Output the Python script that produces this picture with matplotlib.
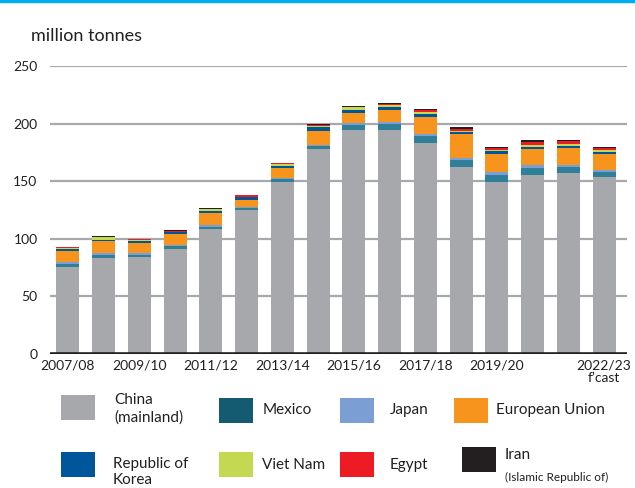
import matplotlib.pyplot as plt
from matplotlib.patches import Rectangle
from matplotlib.lines import Line2D

plt.rcParams['font.family'] = ['Lato', 'DejaVu Sans']

seasons = ['2007/08', '2008/09', '2009/10', '2010/11', '2011/12', '2012/13',
           '2013/14', '2014/15', '2015/16', '2016/17', '2017/18', '2018/19',
           '2019/20', '2020/21', '2021/22', '2022/23']
tick_text = ['2007/08', '', '2009/10', '', '2011/12', '', '2013/14', '',
             '2015/16', '', '2017/18', '', '2019/20', '', '', "2022/23\nf\u2019cast"]

# million tonnes, bottom to top of each stack
china = [75.5, 83.3, 84.5, 91.1, 108.5, 125.0, 149.3, 178.0,
         194.4, 194.4, 183.0, 162.3, 149.3, 155.4, 157.1, 153.6]
mexico = [2.5, 2.3, 1.7, 2.9, 1.7, 2.0, 2.6, 2.6,
          4.3, 5.2, 6.1, 6.1, 6.1, 6.1, 5.2, 4.3]
japan = [1.7, 1.7, 1.2, 0.6, 1.7, 0.5, 0.9, 0.9,
         1.7, 1.7, 1.7, 1.7, 2.6, 2.6, 1.7, 1.7]
eu = [9.5, 10.7, 8.7, 9.5, 10.4, 6.4, 8.7, 12.2,
      8.7, 10.4, 14.8, 20.8, 15.6, 13.9, 14.8, 13.9]
korea = [1.8, 1.1, 2.0, 1.7, 1.7, 2.6, 1.7, 3.5,
         2.6, 2.6, 2.6, 1.7, 2.6, 1.7, 1.7, 1.7]
viet_nam = [1.2, 2.3, 0.5, 0.5, 1.7, 0.0, 1.7, 0.9,
            2.6, 1.7, 1.7, 0.9, 0.9, 1.7, 1.7, 1.7]
egypt = [0.3, 0.0, 1.0, 0.9, 0.0, 1.7, 0.9, 0.9,
         0.0, 0.9, 1.7, 1.7, 1.7, 2.6, 2.6, 1.7]
iran = [0.8, 0.8, 0.0, 0.3, 0.9, 0.0, 0.0, 0.9,
        0.9, 0.9, 0.9, 2.0, 0.9, 1.7, 0.9, 0.9]

series = [china, mexico, japan, eu, korea, viet_nam, egypt, iran]
bar_colors = ['#a7a8ab', '#2f7f99', '#7b9fd4', '#f7941d',
              '#00569a', '#c5d852', '#ed1c24', '#231f20']
key_colors = ['#a7a8ab', '#145b72', '#7b9fd4', '#f7941d',
              '#00569a', '#c5d852', '#ed1c24', '#231f20']

fig = plt.figure(figsize=(6.35, 4.88), dpi=100)
ax = fig.add_axes([50 / 635, 1 - 354 / 488, 577 / 635, 288 / 488])

x = list(range(len(seasons)))
bottom = [0.0] * len(seasons)
for vals, col in zip(series, bar_colors):
    ax.bar(x, vals, width=0.64, bottom=bottom, color=col, linewidth=0, zorder=2)
    bottom = [b + v for b, v in zip(bottom, vals)]

ax.set_ylim(0, 250)
ax.set_xlim(-0.5, 15.64)
ax.set_yticks([0, 50, 100, 150, 200, 250])
for y in [50, 100, 150, 200, 250]:
    ax.axhline(y, color='#a7a9ac', lw=1.6, zorder=1)
ax.axhline(0, color='#231f20', lw=2.6, zorder=3)
ax.set_xticks(x)
ax.set_xticklabels(tick_text, fontsize=10, color='#231f20', linespacing=1.0)
ax.tick_params(axis='both', length=0, labelsize=10, colors='#231f20')
ax.tick_params(axis='y', pad=9)
ax.tick_params(axis='x', pad=4)
for s in ax.spines.values():
    s.set_visible(False)

fig.text(31 / 635, 1 - 36 / 488, 'million tonnes', fontsize=13,
         color='#231f20', va='center', ha='left')

# cyan rule along the top edge
fig.add_artist(Line2D([0, 1], [1 - 1 / 488, 1 - 1 / 488], color='#00aeef', lw=2.5))

# key: squares and names laid out in two rows of four
names = ['China\n(mainland)', 'Mexico', 'Japan', 'European Union',
         'Republic of\nKorea', 'Viet Nam', 'Egypt', 'Iran']
sq_x = [61, 219, 340, 454, 61, 219, 340, 462]
sq_y = [395, 398, 398, 398, 452, 452, 452, 447]
txt_x = [114, 263, 390, 496, 113, 262, 390, 505]
txt_y = [409, 410, 410, 410, 472, 465, 465, 455]
W, H = 635, 488
for i in range(8):
    fig.add_artist(Rectangle((sq_x[i] / W, 1 - (sq_y[i] + 25) / H), 34 / W, 25 / H,
                             transform=fig.transFigure, color=key_colors[i], lw=0))
    fig.text(txt_x[i] / W, 1 - txt_y[i] / H, names[i], fontsize=11,
             color='#231f20', va='center', ha='left', linespacing=1.25)
fig.text(505 / W, 1 - 477 / H, '(Islamic Republic of)', fontsize=8.5,
         color='#231f20', va='center', ha='left')

fig.savefig('out.png', dpi=100)
